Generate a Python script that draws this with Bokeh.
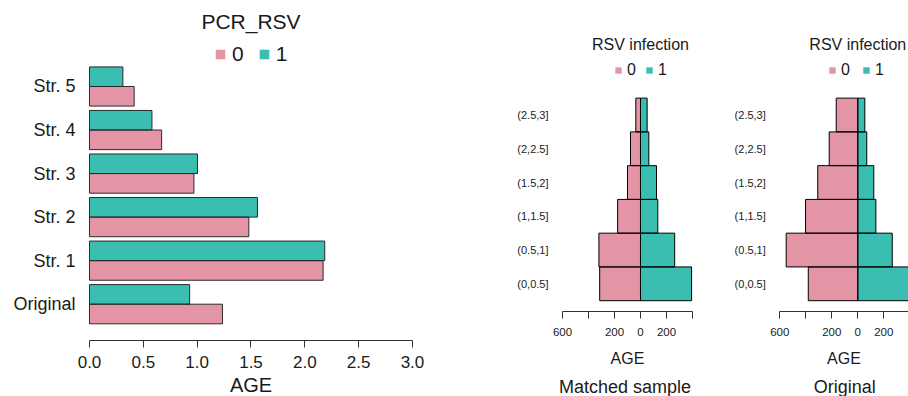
from bokeh.plotting import figure
from bokeh.models import (Range1d, FixedTicker, NumeralTickFormatter, CustomJSTickFormatter,
                          Legend, LegendItem, Label, ColumnDataSource)
from bokeh.layouts import row
from bokeh.transform import dodge
from bokeh.embed import file_html
from bokeh.resources import INLINE

PINK = "#E495A5"
TEAL = "#39BEB1"
FONT = "Liberation Sans"
TXT = "#1a1a1a"

# ---- left panel data: mean AGE by stratum and PCR_RSV ----
strata = ["Original", "Str. 1", "Str. 2", "Str. 3", "Str. 4", "Str. 5"]
age_pcr0 = [1.235, 2.17, 1.48, 0.97, 0.67, 0.415]
age_pcr1 = [0.93, 2.185, 1.56, 1.003, 0.58, 0.31]
left_ticks = [0.0, 0.5, 1.0, 1.5, 2.0, 2.5, 3.0]

# ---- pyramid data: counts per AGE bin ----
age_bins = ["(0,0.5]", "(0.5,1]", "(1,1.5]", "(1.5,2]", "(2,2.5]", "(2.5,3]"]
matched_0 = [314, 320, 176, 100, 77, 36]
matched_1 = [393, 263, 133, 123, 64, 51]
original_0 = [381, 551, 402, 308, 220, 166]
original_1 = [430, 265, 139, 123, 69, 54]
pyr_ticks = [-600, -400, -200, 0, 200, 400]

H = 396


def style_common(p):
    p.xgrid.visible = False
    p.ygrid.visible = False
    p.outline_line_color = None
    p.background_fill_color = "white"
    p.border_fill_color = "white"


def style_xaxis(p, loc, bounds, tick_size, tick_standoff, lab_size, lab_standoff):
    for ax in p.xaxis:
        ax.fixed_location = loc
        ax.bounds = bounds
        ax.axis_line_color = "#333333"
        ax.major_tick_line_color = "#333333"
        ax.major_tick_out = 7
        ax.major_tick_in = 0
        ax.minor_tick_line_color = None
        ax.major_label_text_font = FONT
        ax.major_label_text_font_size = tick_size
        ax.major_label_text_color = TXT
        ax.major_label_standoff = tick_standoff
        ax.axis_label_text_font = FONT
        ax.axis_label_text_font_size = lab_size
        ax.axis_label_text_font_style = "normal"
        ax.axis_label_text_color = TXT
        ax.axis_label_standoff = lab_standoff


def style_yaxis(p, loc, size, standoff):
    for ax in p.yaxis:
        ax.fixed_location = loc
        ax.axis_line_color = None
        ax.major_tick_line_color = None
        ax.minor_tick_line_color = None
        ax.major_tick_out = 0
        ax.major_tick_in = 0
        ax.major_label_text_font = FONT
        ax.major_label_text_font_size = size
        ax.major_label_text_color = TXT
        ax.major_label_standoff = standoff


# ================= left panel =================
src1 = ColumnDataSource(dict(pos=list(range(len(strata))), a0=age_pcr0, a1=age_pcr1))
p1 = figure(width=460, height=H, x_range=Range1d(-0.8266, 3.446), y_range=Range1d(-2.12, 6.975),
            output_backend="svg", toolbar_location=None, title=None,
            min_border_left=0, min_border_right=0, min_border_top=0, min_border_bottom=0)
style_common(p1)
f10 = p1.hbar(y=dodge("pos", -0.225), left=0, right="a0", height=0.45, source=src1,
              fill_color=PINK, line_color=None)
f11 = p1.hbar(y=dodge("pos", 0.225), left=0, right="a1", height=0.45, source=src1,
              fill_color=TEAL, line_color=None)
p1.hbar(y=dodge("pos", -0.225), left=0, right="a0", height=0.45, source=src1,
        fill_color=None, line_color="#2b2b2b", line_width=1)
p1.hbar(y=dodge("pos", 0.225), left=0, right="a1", height=0.45, source=src1,
        fill_color=None, line_color="#2b2b2b", line_width=1)

p1.xaxis.ticker = FixedTicker(ticks=left_ticks)
p1.xaxis.formatter = NumeralTickFormatter(format="0.0")
p1.xaxis.axis_label = "AGE"
style_xaxis(p1, -0.834, (0, 3), "17px", 8, "20px", 3)

p1.yaxis.ticker = FixedTicker(ticks=list(range(len(strata))))
p1.yaxis.major_label_overrides = {i: s for i, s in enumerate(strata)}
style_yaxis(p1, 0, "18px", 14)

leg1 = Legend(items=[LegendItem(label="0", renderers=[f10]), LegendItem(label="1", renderers=[f11])],
              orientation="horizontal", location=(214, 330), glyph_width=12, glyph_height=12,
              label_standoff=6, spacing=14, padding=0, margin=0, label_width=0, label_height=12,
              border_line_alpha=0, background_fill_alpha=0,
              label_text_font=FONT, label_text_font_size="21px", label_text_color=TXT)
p1.add_layout(leg1, "center")
p1.add_layout(Label(x=1.5, y=H - 21, x_units="data", y_units="screen", text="PCR_RSV",
                    text_align="center", text_baseline="middle", text_font=FONT,
                    text_font_size="21px", text_color=TXT))


# ================= pyramid panels =================
def pyramid(width, xr_start, xr_end, counts0, counts1, bottom_title, leg_x, leg_spacing):
    src = ColumnDataSource(dict(pos=list(range(len(age_bins))),
                                neg0=[-v for v in counts0], c1=counts1))
    p = figure(width=width, height=H, x_range=Range1d(xr_start, xr_end),
               y_range=Range1d(-3.338, 8.392), output_backend="svg", toolbar_location=None,
               title=None, min_border_left=0, min_border_right=0,
               min_border_top=0, min_border_bottom=0)
    style_common(p)
    f0 = p.hbar(y="pos", left="neg0", right=0, height=1, source=src,
                fill_color=PINK, line_color=None)
    f1 = p.hbar(y="pos", left=0, right="c1", height=1, source=src,
                fill_color=TEAL, line_color=None)
    p.hbar(y="pos", left="neg0", right=0, height=1, source=src,
           fill_color=None, line_color="black", line_width=1)
    p.hbar(y="pos", left=0, right="c1", height=1, source=src,
           fill_color=None, line_color="black", line_width=1)

    p.xaxis.ticker = FixedTicker(ticks=pyr_ticks)
    p.xaxis.formatter = CustomJSTickFormatter(
        code="return Math.abs(tick) == 400 ? '' : String(Math.abs(tick));")
    p.xaxis.axis_label = "AGE"
    style_xaxis(p, -0.8205, (pyr_ticks[0], pyr_ticks[-1]), "11.5px", 9, "16px", 11)

    p.yaxis.ticker = FixedTicker(ticks=list(range(len(age_bins))))
    p.yaxis.major_label_overrides = {i: s for i, s in enumerate(age_bins)}
    style_yaxis(p, pyr_ticks[0], "11px", 14)

    leg = Legend(items=[LegendItem(label="0", renderers=[f0]), LegendItem(label="1", renderers=[f1])],
                 orientation="horizontal", location=(leg_x, 317), glyph_width=8, glyph_height=8,
                 label_standoff=5, spacing=leg_spacing, padding=0, margin=0, label_width=0,
                 label_height=8, border_line_alpha=0, background_fill_alpha=0,
                 label_text_font=FONT, label_text_font_size="16px", label_text_color=TXT)
    p.add_layout(leg, "center")
    p.add_layout(Label(x=0, y=H - 44, x_units="data", y_units="screen", text="RSV infection",
                       text_align="center", text_baseline="middle", text_font=FONT,
                       text_font_size="16px", text_color=TXT))
    p.add_layout(Label(x=-100, y=H - 386, x_units="data", y_units="screen", text=bottom_title,
                       text_align="center", text_baseline="middle", text_font=FONT,
                       text_font_size="18px", text_color=TXT))
    return p


p2 = pyramid(248, -1384.6, 523.1, matched_0, matched_1, "Matched  sample", 154, 9)
p3 = pyramid(200, -1148.5, 390, original_0, original_1, "Original", 120, 12)

layout = row(p1, p2, p3, spacing=0)
open("out.html", "w").write(file_html(layout, INLINE))
